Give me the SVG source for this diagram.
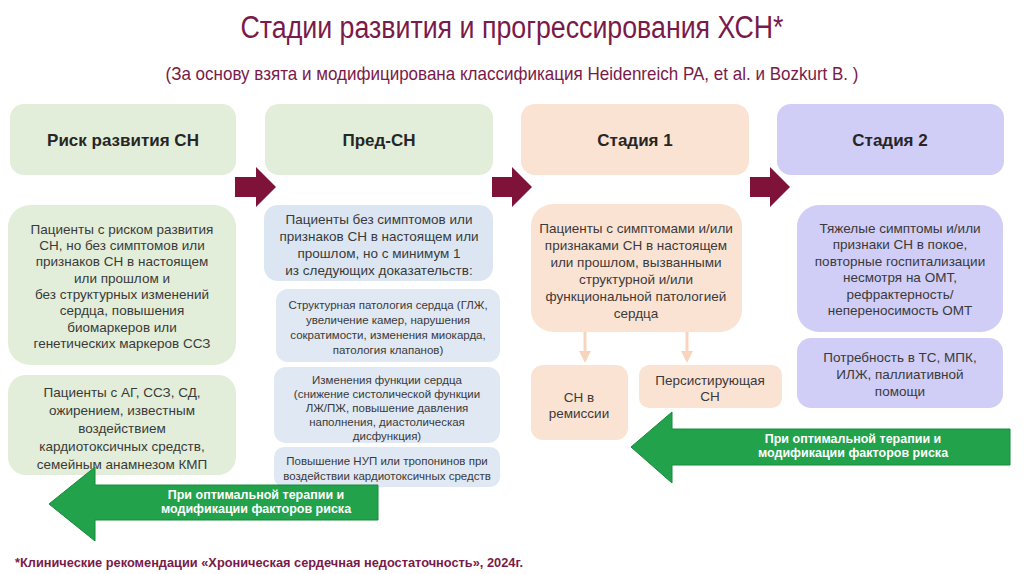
<svg xmlns="http://www.w3.org/2000/svg" width="1024" height="574" viewBox="0 0 1024 574">
<style>
.title{font-family:"Liberation Sans Narrow","Liberation Sans",Arial,sans-serif;fill:#7a1a4a}
.hdr{font-family:"Liberation Sans",Arial,sans-serif;font-weight:bold;font-size:17px;fill:#262626;text-anchor:middle}
.t{font-family:"Liberation Sans",Arial,sans-serif;font-size:13.5px;fill:#3a3a3a;text-anchor:middle}
.s{font-family:"Liberation Sans",Arial,sans-serif;font-size:11.5px;fill:#3a3a3a;text-anchor:middle}
.g{font-family:"Liberation Sans",Arial,sans-serif;font-weight:bold;font-size:12.5px;fill:#ffffff;text-anchor:middle}
.green{fill:#e2eed9}
.blue{fill:#dce6f2}
.blue2{fill:#e0e8f3}
.peach{fill:#fbe3d3}
.lav{fill:#d0cdf6}
.marr{fill:#7f1238}
.garr{fill:#21a24b;stroke:#178a3c;stroke-width:1}
.conn{stroke:#f6d4bd;stroke-width:3;fill:none}
</style>
<defs>
<marker id="ah" markerWidth="4" markerHeight="4" refX="2" refY="2" orient="auto" markerUnits="strokeWidth">
<path d="M0,0 L4,2 L0,4 z" fill="#f6d4bd"/>
</marker>
</defs>
<rect width="1024" height="574" fill="#ffffff"/>

<g id="titles">
<text class="title" x="512" y="38" font-size="31" text-anchor="middle" textLength="543" lengthAdjust="spacingAndGlyphs">Стадии развития и прогрессирования ХСН*</text>
<text class="title" x="512" y="80" font-size="19" text-anchor="middle" textLength="693" lengthAdjust="spacingAndGlyphs">(За основу взята и модифицирована классификация Heidenreich PA, et al.  и Bozkurt B. )</text>
</g>

<g id="connectors">
<polygon class="marr" points="235,177 256,177 256,167 276,187 256,207 256,197 235,197"/>
<polygon class="marr" points="492,177 512,177 512,167 532,187 512,207 512,197 492,197"/>
<polygon class="marr" points="750,177 770,177 770,167 790,187 770,207 770,197 750,197"/>
<line class="conn" x1="585" y1="332" x2="585" y2="357" marker-end="url(#ah)"/>
<line class="conn" x1="687" y1="332" x2="687" y2="357" marker-end="url(#ah)"/>
</g>

<g id="risk-header"><rect class="green" x="10" y="104" width="226" height="71" rx="14"/><text class="hdr" x="123" y="146">Риск развития СН</text></g>
<g id="pre-header"><rect class="green" x="265" y="104" width="228" height="71" rx="14"/><text class="hdr" x="379" y="146">Пред-СН</text></g>
<g id="stage1-header"><rect class="peach" x="521" y="104" width="228" height="71" rx="14"/><text class="hdr" x="635" y="146">Стадия 1</text></g>
<g id="stage2-header"><rect class="lav" x="777" y="104" width="227" height="71" rx="14"/><text class="hdr" x="890" y="146">Стадия 2</text></g>

<g id="risk-body1"><rect class="green" x="8" y="205" width="228" height="160" rx="22"/>
<text class="t" x="122" y="234">Пациенты с риском развития</text>
<text class="t" x="122" y="250">СН, но без симптомов или</text>
<text class="t" x="122" y="266">признаков СН в настоящем</text>
<text class="t" x="122" y="283">или прошлом и</text>
<text class="t" x="122" y="299">без структурных изменений</text>
<text class="t" x="122" y="315">сердца, повышения</text>
<text class="t" x="122" y="332">биомаркеров или</text>
<text class="t" x="122" y="348">генетических маркеров ССЗ</text>
</g>
<g id="risk-body2"><rect class="green" x="8" y="375" width="228" height="100" rx="18"/>
<text class="t" x="122" y="397">Пациенты с АГ, ССЗ, СД,</text>
<text class="t" x="122" y="415">ожирением, известным</text>
<text class="t" x="122" y="433">воздействием</text>
<text class="t" x="122" y="451">кардиотоксичных средств,</text>
<text class="t" x="122" y="469">семейным анамнезом КМП</text>
</g>

<g id="pre-body"><rect class="blue" x="264" y="205" width="229" height="76" rx="14"/>
<text class="t" x="379" y="224">Пациенты без симптомов или</text>
<text class="t" x="379" y="241">признаков СН в настоящем или</text>
<text class="t" x="379" y="258">прошлом, но с минимум 1</text>
<text class="t" x="379" y="275">из следующих доказательств:</text>
</g>
<g id="pre-sub1"><rect class="blue2" x="276" y="289" width="224" height="73" rx="12"/>
<text class="s" x="388" y="309">Структурная патология сердца (ГЛЖ,</text>
<text class="s" x="388" y="324">увеличение камер, нарушения</text>
<text class="s" x="388" y="339">сократимости, изменения миокарда,</text>
<text class="s" x="388" y="354">патология клапанов)</text>
</g>
<g id="pre-sub2"><rect class="blue2" x="274" y="367" width="226" height="76" rx="12"/>
<text class="s" x="387" y="384">Изменения функции сердца</text>
<text class="s" x="387" y="398">(снижение систолической функции</text>
<text class="s" x="387" y="412">ЛЖ/ПЖ, повышение давления</text>
<text class="s" x="387" y="426">наполнения, диастолическая</text>
<text class="s" x="387" y="440">дисфункция)</text>
</g>
<g id="pre-sub3"><rect class="blue2" x="274" y="447" width="226" height="40" rx="10"/>
<text class="s" x="387" y="465">Повышение НУП или тропонинов при</text>
<text class="s" x="387" y="480">воздействии кардиотоксичных средств</text>
</g>

<g id="stage1-body"><rect class="peach" x="531" y="204" width="211" height="128" rx="22"/>
<text class="t" x="636" y="233">Пациенты с симптомами и/или</text>
<text class="t" x="636" y="250">признаками СН в настоящем</text>
<text class="t" x="636" y="267">или прошлом, вызванными</text>
<text class="t" x="636" y="284">структурной и/или</text>
<text class="t" x="636" y="301">функциональной патологией</text>
<text class="t" x="636" y="318">сердца</text>
</g>
<g id="remission"><rect class="peach" x="531" y="365" width="97" height="75" rx="12"/>
<text class="t" x="579" y="402">СН в</text>
<text class="t" x="579" y="418">ремиссии</text>
</g>
<g id="persistent"><rect class="peach" x="639" y="365" width="143" height="43" rx="10"/>
<text class="t" x="710" y="385">Персистирующая</text>
<text class="t" x="710" y="401">СН</text>
</g>

<g id="stage2-body"><rect class="lav" x="797" y="205" width="206" height="127" rx="22"/>
<text class="t" x="900" y="233">Тяжелые симптомы и/или</text>
<text class="t" x="900" y="249">признаки СН в покое,</text>
<text class="t" x="900" y="266">повторные госпитализации</text>
<text class="t" x="900" y="282">несмотря на ОМТ,</text>
<text class="t" x="900" y="299">рефрактерность/</text>
<text class="t" x="900" y="315">непереносимость ОМТ</text>
</g>
<g id="stage2-sub"><rect class="lav" x="797" y="338" width="206" height="70" rx="14"/>
<text class="t" x="900" y="362">Потребность в ТС, МПК,</text>
<text class="t" x="900" y="379">ИЛЖ, паллиативной</text>
<text class="t" x="900" y="396">помощи</text>
</g>

<g id="green-arrow-right">
<polygon class="garr" points="1010,429 672,429 672,412 631,447 672,483 672,465 1010,465"/>
<text class="g" x="853" y="443">При оптимальной терапии и</text>
<text class="g" x="853" y="457">модификации факторов риска</text>
</g>
<g id="green-arrow-left">
<polygon class="garr" points="378,485 95,485 95,467 49,504 95,541 95,520 378,520"/>
<text class="g" x="256" y="499">При оптимальной терапии и</text>
<text class="g" x="256" y="513">модификации факторов риска</text>
</g>

<g id="footnote">
<text x="15" y="567" font-family="Liberation Sans, Arial, sans-serif" font-size="13" font-weight="bold" fill="#7a1a4a" textLength="508" lengthAdjust="spacingAndGlyphs">*Клинические рекомендации «Хроническая сердечная недостаточность», 2024г.</text>
</g>
</svg>
